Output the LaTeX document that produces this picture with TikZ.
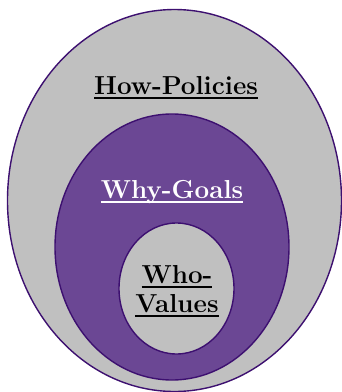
\documentclass[tikz,border=0pt]{standalone}
\usepackage{tikz}
\usetikzlibrary{shapes.geometric}
\definecolor{ringgray}{HTML}{C0C0C0}
\definecolor{ringpurple}{HTML}{6B4794}
\definecolor{ringline}{HTML}{3D1070}
% underline at a fixed depth below the baseline
\newcommand{\ulword}[1]{\setbox0\hbox{#1}\rlap{\rule[-4.5pt]{\wd0}{1.4pt}}\box0}
\tikzset{
	ring/.style={% filled ellipses, one inside the other
		draw=ringline,
		line width=1.4pt,
		shape=ellipse,
		inner sep=0pt
	},
	ringtext/.style={
		font=\fontsize{26}{29}\selectfont\bfseries,
		inner sep=0pt,
		align=center,
		anchor=base
	}
}
\begin{document}
\begin{tikzpicture}[x=1pt, y=-1pt]
		\useasboundingbox (0,0) rectangle (341,392);
		\node (how) [ring, fill=ringgray, minimum width=334pt, minimum height=382pt] at (174.5,200.5) {};
		\node (why) [ring, fill=ringpurple, minimum width=234pt, minimum height=266pt] at (172,247) {};
		\node (who) [ring, fill=ringgray, minimum width=115pt, minimum height=131pt] at (176.5,288.5) {};
		
		\node (howlabel) [ringtext] at (176,94) {\ulword{How-Policies}};
		\node (whylabel) [ringtext, text=white] at (172,198) {\ulword{Why-Goals}};
		\node (wholabel) [ringtext] at (177,312) {\ulword{Who-}\\\ulword{Values}};
	\end{tikzpicture}
\end{document}
